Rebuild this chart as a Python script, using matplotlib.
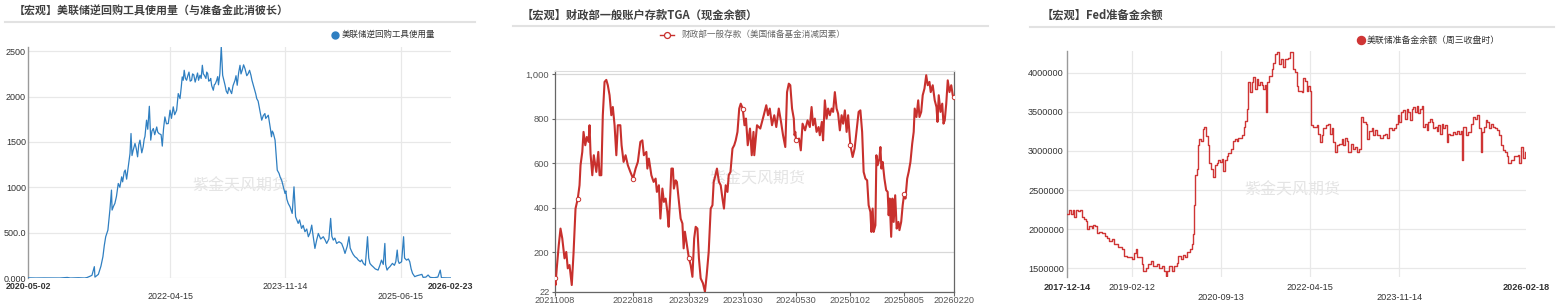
import numpy as np
import pandas as pd
import matplotlib
matplotlib.use('Agg')
import matplotlib.pyplot as plt
import matplotlib.dates as mdates
from matplotlib.lines import Line2D

W, H = 1562, 308
plt.rcParams['font.family'] = ['Liberation Sans', 'Noto Sans CJK SC', 'DejaVu Sans']
CJK = ['Noto Sans CJK SC', 'DejaVu Sans']

# ---------------- data ----------------
title1 = "【宏观】美联储逆回购工具使用量（与准备金此消彼长）"
legend1 = "美联储逆回购工具使用量"
title2 = "【宏观】财政部一般账户存款TGA（现金余额）"
legend2 = "财政部一般存款（美国储备基金消减因素）"
title3 = "【宏观】Fed准备金余额"
legend3 = "美联储准备金余额（周三收盘时）"
watermark = "紫金天风期货"

rrp_dates = [
    "2020-05-02", "2020-06-10", "2020-07-20", "2020-09-01", "2020-10-09", "2020-11-15", "2020-12-01",
    "2021-01-10", "2021-02-10", "2021-02-22", "2021-03-10", "2021-03-19", "2021-03-31", "2021-04-03",
    "2021-04-20", "2021-05-03", "2021-05-13", "2021-05-20", "2021-05-27", "2021-06-07", "2021-06-17",
    "2021-06-25", "2021-06-28", "2021-07-05", "2021-07-12", "2021-07-20", "2021-07-29", "2021-08-06",
    "2021-08-15", "2021-08-28", "2021-09-09", "2021-09-17", "2021-09-26", "2021-10-01", "2021-10-06",
    "2021-10-12", "2021-10-21", "2021-11-03", "2021-11-15", "2021-11-24", "2021-12-01", "2021-12-10",
    "2021-12-18", "2021-12-24", "2022-01-01", "2022-01-08", "2022-01-21", "2022-01-28", "2022-02-07",
    "2022-02-18", "2022-03-01", "2022-03-07", "2022-03-20", "2022-03-28", "2022-04-06", "2022-04-15",
    "2022-04-22", "2022-05-01", "2022-05-18", "2022-05-26", "2022-06-04", "2022-06-15", "2022-06-25",
    "2022-07-01", "2022-07-07", "2022-07-19", "2022-08-01", "2022-08-12", "2022-08-26", "2022-09-05",
    "2022-09-12", "2022-09-24", "2022-10-04", "2022-10-12", "2022-10-21", "2022-11-01", "2022-11-10",
    "2022-11-18", "2022-11-28", "2022-12-05", "2022-12-14", "2022-12-21", "2022-12-28", "2023-01-04",
    "2023-01-16", "2023-01-29", "2023-02-10", "2023-02-18", "2023-03-07", "2023-03-18", "2023-04-01",
    "2023-04-12", "2023-04-26", "2023-05-05", "2023-05-12", "2023-05-26", "2023-06-07", "2023-06-15",
    "2023-06-24", "2023-07-05", "2023-07-12", "2023-07-19", "2023-07-27", "2023-08-04", "2023-08-12",
    "2023-08-21", "2023-08-28", "2023-09-06", "2023-09-15", "2023-09-24", "2023-10-05", "2023-10-14",
    "2023-10-27", "2023-11-05", "2023-11-13", "2023-11-22", "2023-11-29", "2023-12-08", "2023-12-19",
    "2023-12-28", "2024-01-05", "2024-01-18", "2024-01-25", "2024-02-04", "2024-02-12", "2024-02-21",
    "2024-03-01", "2024-03-09", "2024-03-18", "2024-03-26", "2024-04-01", "2024-04-11", "2024-04-20",
    "2024-04-28", "2024-05-10", "2024-05-23", "2024-06-01", "2024-06-09", "2024-06-20", "2024-06-29",
    "2024-07-05", "2024-07-12", "2024-07-20", "2024-07-29", "2024-08-10", "2024-08-23", "2024-09-01",
    "2024-09-09", "2024-09-20", "2024-09-29", "2024-10-05", "2024-10-13", "2024-10-20", "2024-10-29",
    "2024-11-07", "2024-11-15", "2024-11-25", "2024-12-02", "2024-12-10", "2024-12-20", "2024-12-31",
    "2025-01-06", "2025-01-12", "2025-01-20", "2025-01-28", "2025-02-08", "2025-02-22", "2025-03-03",
    "2025-03-11", "2025-03-20", "2025-03-28", "2025-04-01", "2025-04-08", "2025-04-15", "2025-04-22",
    "2025-05-05", "2025-05-15", "2025-05-22", "2025-05-29", "2025-06-03", "2025-06-08", "2025-06-20",
    "2025-06-30", "2025-07-05", "2025-07-15", "2025-07-24", "2025-07-31", "2025-08-07", "2025-08-14",
    "2025-08-25", "2025-09-05", "2025-09-19", "2025-09-30", "2025-10-06", "2025-10-20", "2025-10-31",
    "2025-11-10", "2025-11-17", "2025-12-01", "2025-12-19", "2025-12-31", "2026-01-06", "2026-01-20",
    "2026-02-05", "2026-02-23",
]
rrp_values = [
    2, 0, 1, 0, 0, 6, 0,
    3, 0, 5, 20, 30, 125, 10,
    40, 130, 235, 360, 455, 528, 749,
    969, 749, 790, 822, 900, 1042, 1000,
    1115, 1170, 1090, 1225, 1373, 1593, 1350,
    1410, 1483, 1336, 1520, 1380, 1446, 1560,
    1740, 1640, 1893, 1520, 1648, 1580, 1665,
    1593, 1580, 1454, 1776, 1700, 1703, 1850,
    1760, 1887, 1850, 2033, 1978, 2217, 2290,
    2200, 2180, 2270, 2180, 2240, 2217, 2180,
    2235, 2345, 2235, 2200, 2253, 2180, 2120,
    2070, 2140, 2180, 2130, 2253, 2550, 2235,
    2125, 2033, 2070, 2033, 2180, 2125, 2345,
    2290, 2308, 2230, 2253, 2235, 2125, 2060,
    1978, 1905, 1820, 1740, 1790, 1813, 1770,
    1795, 1700, 1557, 1600, 1520, 1189, 1153,
    1079, 1000, 932, 870, 822, 785, 712,
    1005, 675, 602, 640, 547, 580, 510,
    540, 455, 500, 583, 480, 326, 420,
    491, 430, 455, 420, 381, 430, 657,
    460, 418, 440, 381, 400, 381, 330,
    271, 350, 455, 330, 290, 260, 234,
    220, 197, 180, 200, 161, 140, 455,
    220, 161, 140, 124, 100, 87, 140,
    197, 150, 381, 150, 87, 110, 124,
    161, 140, 180, 308, 190, 161, 179,
    455, 220, 197, 210, 179, 100, 51,
    15, 25, 33, 40, 7, 10, 33,
    8, 5, 3, 10, 87, 3, 2,
    1, 1,
]
# extra in-between readings of the day-to-day wiggles
rrp_extra_dates = [
    "2021-08-20", "2021-09-02", "2021-10-27", "2021-11-09", "2021-12-06", "2022-01-14",
    "2022-02-12", "2022-03-13", "2022-05-08", "2022-06-10", "2022-06-20", "2022-07-13",
    "2022-07-25", "2022-08-06", "2022-08-19", "2022-08-31", "2022-09-18", "2022-09-29",
    "2022-10-16", "2022-10-26", "2022-11-05", "2022-11-23", "2022-12-10", "2023-01-10",
    "2023-01-22", "2023-02-04", "2023-02-25", "2023-03-12", "2023-03-25", "2023-04-06",
    "2023-04-19", "2023-05-19", "2023-05-31", "2023-06-19", "2023-07-01", "2023-08-08",
    "2023-09-01", "2023-09-10", "2023-10-20", "2023-11-17",
]
rrp_extra_values = [
    1060, 1190, 1430, 1470, 1530, 1620,
    1610, 1640, 1800, 2100, 2180, 2230,
    2170, 2250, 2160, 2260, 2200, 2250,
    2270, 2170, 2200, 2130, 2220, 2180,
    2060, 2100, 2120, 2230, 2260, 2250,
    2350, 2290, 2180, 2030, 1950, 1760,
    1640, 1620, 1110, 960,
]
rrp_xticks = ["2022-04-15", "2023-11-14", "2025-06-15"]
rrp_xlabels = [("2020-05-02", 0, True), ("2022-04-15", 1, False), ("2023-11-14", 0, False),
               ("2025-06-15", 1, False), ("2026-02-23", 0, True)]
rrp_yticks = [0, 500, 1000, 1500, 2000, 2500]
rrp_ylabels = ["0.000", "500.0", "1000", "1500", "2000", "2500"]

tga_dates = [
    "2021-10-08", "2021-10-12", "2021-10-17", "2021-10-25", "2021-11-01", "2021-11-08", "2021-11-17",
    "2021-11-24", "2021-11-30", "2021-12-07", "2021-12-16", "2021-12-23", "2021-12-31", "2022-01-09",
    "2022-01-16", "2022-01-20", "2022-01-27", "2022-02-01", "2022-02-08", "2022-02-14", "2022-02-21",
    "2022-02-25", "2022-03-01", "2022-03-08", "2022-03-14", "2022-03-24", "2022-04-01", "2022-04-06",
    "2022-04-13", "2022-04-19", "2022-04-26", "2022-05-03", "2022-05-09", "2022-05-16", "2022-05-23",
    "2022-05-29", "2022-06-05", "2022-06-12", "2022-06-18", "2022-06-28", "2022-07-03", "2022-07-11",
    "2022-07-19", "2022-07-28", "2022-08-07", "2022-08-18", "2022-08-28", "2022-09-06", "2022-09-16",
    "2022-09-24", "2022-09-30", "2022-10-10", "2022-10-14", "2022-10-20", "2022-10-30", "2022-11-08",
    "2022-11-16", "2022-11-21", "2022-11-29", "2022-12-05", "2022-12-13", "2022-12-19", "2022-12-26",
    "2023-01-02", "2023-01-07", "2023-01-14", "2023-01-18", "2023-01-24", "2023-01-28", "2023-02-04",
    "2023-02-09", "2023-02-17", "2023-02-24", "2023-03-03", "2023-03-08", "2023-03-13", "2023-03-29",
    "2023-04-05", "2023-04-12", "2023-04-19", "2023-04-25", "2023-05-02", "2023-05-08", "2023-05-15",
    "2023-05-24", "2023-06-01", "2023-06-08", "2023-06-16", "2023-06-24", "2023-07-01", "2023-07-06",
    "2023-07-13", "2023-07-19", "2023-07-27", "2023-08-03", "2023-08-10", "2023-08-16", "2023-08-23",
    "2023-08-30", "2023-09-04", "2023-09-11", "2023-09-19", "2023-09-26", "2023-10-02", "2023-10-09",
    "2023-10-16", "2023-10-22", "2023-10-30", "2023-11-06", "2023-11-12", "2023-11-19", "2023-11-28",
    "2023-12-05", "2023-12-12", "2023-12-15", "2023-12-26", "2024-01-08", "2024-01-22", "2024-02-01",
    "2024-02-08", "2024-02-15", "2024-02-24", "2024-03-04", "2024-03-12", "2024-03-22", "2024-03-31",
    "2024-04-08", "2024-04-17", "2024-04-24", "2024-05-01", "2024-05-07", "2024-05-14", "2024-05-21",
    "2024-05-24", "2024-05-27", "2024-05-30", "2024-06-11", "2024-06-18", "2024-06-25", "2024-07-05",
    "2024-07-15", "2024-07-24", "2024-07-31", "2024-08-06", "2024-08-13", "2024-08-20", "2024-08-28",
    "2024-09-02", "2024-09-10", "2024-09-15", "2024-09-22", "2024-09-29", "2024-10-05", "2024-10-12",
    "2024-10-19", "2024-10-25", "2024-11-01", "2024-11-08", "2024-11-14", "2024-11-21", "2024-11-28",
    "2024-12-04", "2024-12-11", "2024-12-18", "2024-12-24", "2025-01-02", "2025-01-06", "2025-01-11",
    "2025-01-19", "2025-01-29", "2025-02-04", "2025-02-11", "2025-02-18", "2025-02-24", "2025-03-03",
    "2025-03-10", "2025-03-16", "2025-03-23", "2025-03-27", "2025-04-01", "2025-04-05", "2025-04-12",
    "2025-04-16", "2025-04-21", "2025-04-28", "2025-05-02", "2025-05-06", "2025-05-11", "2025-05-18",
    "2025-05-25", "2025-05-31", "2025-06-04", "2025-06-08", "2025-06-14", "2025-06-19", "2025-06-24",
    "2025-06-30", "2025-07-06", "2025-07-13", "2025-07-17", "2025-07-24", "2025-07-30", "2025-08-05",
    "2025-08-10", "2025-08-17", "2025-08-23", "2025-08-30", "2025-09-06", "2025-09-12", "2025-09-16",
    "2025-09-23", "2025-09-30", "2025-10-05", "2025-10-12", "2025-10-18", "2025-10-25", "2025-11-01",
    "2025-11-07", "2025-11-14", "2025-11-19", "2025-11-27", "2025-12-05", "2025-12-12", "2025-12-16",
    "2025-12-21", "2025-12-28", "2026-01-04", "2026-01-09", "2026-01-14", "2026-01-20", "2026-01-26",
    "2026-02-02", "2026-02-09", "2026-02-15", "2026-02-20",
]
tga_values = [
    82, 52, 127, 231, 306, 262, 172,
    201, 127, 142, 52, 194, 396, 441,
    501, 591, 651, 741, 681, 718, 696,
    771, 643, 546, 636, 561, 651, 546,
    546, 816, 966, 975, 951, 906, 816,
    853, 771, 636, 771, 771, 681, 606,
    636, 591, 561, 531, 576, 606, 696,
    703, 636, 651, 576, 621, 546, 516,
    531, 471, 501, 351, 486, 426, 441,
    381, 314, 471, 576, 576, 486, 523,
    516, 426, 351, 329, 217, 292, 172,
    142, 89, 262, 314, 306, 172, 82,
    60, 22, 97, 201, 396, 411, 516,
    546, 576, 516, 501, 441, 396, 501,
    471, 546, 561, 666, 681, 703, 741,
    846, 868, 846, 771, 801, 681, 756,
    636, 741, 636, 771, 756, 816, 861,
    816, 846, 771, 816, 763, 846, 786,
    726, 673, 920, 958, 951, 846, 801,
    726, 741, 703, 711, 658, 778, 748,
    793, 763, 853, 771, 801, 741, 763,
    726, 786, 703, 883, 801, 846, 816,
    846, 831, 920, 846, 823, 748, 816,
    778, 838, 741, 816, 681, 658, 628,
    666, 771, 831, 838, 741, 561, 531,
    523, 411, 381, 291, 396, 291, 321,
    636, 591, 621, 673, 576, 606, 531,
    479, 471, 366, 441, 269, 441, 336,
    456, 306, 336, 299, 336, 411, 463,
    441, 531, 561, 606, 688, 741, 846,
    808, 883, 808, 831, 906, 936, 996,
    951, 966, 920, 951, 883, 853, 786,
    906, 831, 868, 778, 793, 868, 973,
    920, 951, 906, 898,
]
tga_xticks = ["2021-10-08", "2022-08-18", "2023-03-29", "2023-10-30", "2024-05-30",
              "2025-01-02", "2025-08-05", "2026-02-20"]
tga_xlabels = ["20211008", "20220818", "20230329", "20231030", "20240530",
               "20250102", "20250805", "20260220"]
tga_marker_dates = tga_xticks + ["2022-01-09"]
tga_yticks = [22, 200, 400, 600, 800, 1000]
tga_ylabels = ["22", "200", "400", "600", "800", "1,000"]

res_dates = [
    "2017-12-14", "2017-12-27", "2018-01-09", "2018-01-22", "2018-01-30", "2018-02-12", "2018-02-27",
    "2018-03-10", "2018-03-21", "2018-04-05", "2018-04-18", "2018-04-27", "2018-05-10", "2018-05-25",
    "2018-06-05", "2018-06-16", "2018-06-27", "2018-07-14", "2018-07-30", "2018-08-20", "2018-09-04",
    "2018-09-17", "2018-10-02", "2018-10-17", "2018-11-04", "2018-11-14", "2018-12-06", "2018-12-21",
    "2019-01-08", "2019-01-18", "2019-02-09", "2019-02-24", "2019-03-09", "2019-03-18", "2019-04-04",
    "2019-04-15", "2019-04-26", "2019-05-13", "2019-05-28", "2019-06-13", "2019-06-26", "2019-07-11",
    "2019-07-26", "2019-08-08", "2019-08-23", "2019-09-07", "2019-09-20", "2019-09-29", "2019-10-12",
    "2019-10-27", "2019-11-11", "2019-11-29", "2019-12-09", "2019-12-25", "2020-01-11", "2020-01-22",
    "2020-02-06", "2020-02-23", "2020-03-05", "2020-03-16", "2020-03-22", "2020-03-29", "2020-04-07",
    "2020-04-13", "2020-04-24", "2020-05-03", "2020-05-16", "2020-05-26", "2020-06-06", "2020-06-17",
    "2020-06-28", "2020-07-09", "2020-07-20", "2020-08-04", "2020-08-15", "2020-08-25", "2020-09-05",
    "2020-09-16", "2020-09-27", "2020-10-08", "2020-10-19", "2020-10-29", "2020-11-14", "2020-11-27",
    "2020-12-12", "2020-12-23", "2021-01-02", "2021-01-18", "2021-01-28", "2021-02-08", "2021-02-15",
    "2021-02-26", "2021-03-08", "2021-03-19", "2021-03-30", "2021-04-10", "2021-04-21", "2021-05-02",
    "2021-05-12", "2021-05-23", "2021-06-03", "2021-06-14", "2021-06-25", "2021-07-01", "2021-07-10",
    "2021-07-23", "2021-08-07", "2021-08-18", "2021-08-29", "2021-09-13", "2021-09-26", "2021-10-07",
    "2021-10-18", "2021-11-02", "2021-11-23", "2021-12-04", "2021-12-15", "2021-12-26", "2022-01-06",
    "2022-01-17", "2022-01-27", "2022-02-07", "2022-02-18", "2022-03-01", "2022-03-12", "2022-03-23",
    "2022-04-02", "2022-04-13", "2022-04-20", "2022-05-05", "2022-05-27", "2022-06-06", "2022-06-17",
    "2022-06-28", "2022-07-09", "2022-07-24", "2022-08-10", "2022-08-21", "2022-09-01", "2022-09-08",
    "2022-09-23", "2022-10-04", "2022-10-21", "2022-11-05", "2022-11-16", "2022-11-27", "2022-12-08",
    "2022-12-18", "2023-01-03", "2023-01-16", "2023-01-31", "2023-02-15", "2023-02-28", "2023-03-11",
    "2023-03-26", "2023-04-10", "2023-04-21", "2023-05-04", "2023-05-19", "2023-05-30", "2023-06-10",
    "2023-06-25", "2023-07-12", "2023-07-30", "2023-08-14", "2023-08-29", "2023-09-11", "2023-09-26",
    "2023-10-11", "2023-10-24", "2023-11-08", "2023-11-15", "2023-11-26", "2023-12-11", "2023-12-22",
    "2024-01-02", "2024-01-12", "2024-01-23", "2024-02-03", "2024-02-14", "2024-02-25", "2024-03-07",
    "2024-03-17", "2024-03-28", "2024-04-08", "2024-04-19", "2024-04-30", "2024-05-11", "2024-05-21",
    "2024-06-01", "2024-06-12", "2024-06-23", "2024-07-04", "2024-07-15", "2024-07-25", "2024-08-05",
    "2024-08-16", "2024-08-27", "2024-09-07", "2024-09-18", "2024-09-28", "2024-10-09", "2024-10-27",
    "2024-11-11", "2024-11-26", "2024-12-09", "2024-12-20", "2024-12-28", "2025-01-04", "2025-01-21",
    "2025-02-05", "2025-02-21", "2025-03-06", "2025-03-21", "2025-04-05", "2025-04-16", "2025-04-27",
    "2025-05-03", "2025-05-18", "2025-05-31", "2025-06-09", "2025-06-20", "2025-07-01", "2025-07-14",
    "2025-07-29", "2025-08-13", "2025-08-26", "2025-09-06", "2025-09-17", "2025-10-02", "2025-10-13",
    "2025-10-23", "2025-11-10", "2025-12-01", "2025-12-23", "2026-01-04", "2026-01-15", "2026-01-27",
    "2026-02-07", "2026-02-18",
]
res_values = [
    2200000, 2250000, 2190000, 2250000, 2150000, 2250000, 2230000,
    2250000, 2150000, 2130000, 2110000, 2000000, 2040000, 2020000,
    2060000, 2040000, 1950000, 1970000, 1950000, 1910000, 1890000,
    1850000, 1870000, 1810000, 1810000, 1770000, 1750000, 1660000,
    1640000, 1640000, 1620000, 1690000, 1750000, 1640000, 1640000,
    1560000, 1470000, 1510000, 1560000, 1590000, 1530000, 1530000,
    1550000, 1510000, 1530000, 1470000, 1400000, 1470000, 1530000,
    1470000, 1530000, 1570000, 1660000, 1620000, 1670000, 1640000,
    1710000, 1750000, 1810000, 1940000, 2310000, 2690000, 2770000,
    3070000, 3150000, 3130000, 3285000, 3300000, 3190000, 3070000,
    2840000, 2770000, 2670000, 2820000, 2840000, 2880000, 2860000,
    2900000, 2750000, 2880000, 2940000, 2980000, 3030000, 3130000,
    3150000, 3130000, 3170000, 3170000, 3210000, 3300000, 3380000,
    3540000, 3880000, 3750000, 3880000, 3940000, 3790000, 3920000,
    3840000, 3880000, 3840000, 3790000, 3840000, 3500000, 3880000,
    3960000, 4050000, 4130000, 4240000, 4260000, 4110000, 4170000,
    4070000, 4170000, 4190000, 4260000, 4260000, 4050000, 4010000,
    3830000, 3770000, 3770000, 3750000, 3930000, 3890000, 3770000,
    3830000, 3770000, 3330000, 3310000, 3330000, 3220000, 3115000,
    3200000, 3290000, 3330000, 3350000, 3220000, 3290000, 3120000,
    2990000, 3070000, 3090000, 3150000, 3070000, 3170000, 3130000,
    2990000, 3090000, 3030000, 3050000, 2990000, 3030000, 3430000,
    3370000, 3350000, 3150000, 3250000, 3290000, 3200000, 3270000,
    3200000, 3170000, 3200000, 3220000, 3170000, 3290000, 3270000,
    3290000, 3350000, 3460000, 3370000, 3500000, 3520000, 3410000,
    3540000, 3500000, 3390000, 3540000, 3560000, 3500000, 3580000,
    3480000, 3540000, 3580000, 3310000, 3350000, 3270000, 3370000,
    3410000, 3370000, 3290000, 3310000, 3250000, 3330000, 3220000,
    3350000, 3290000, 3330000, 3120000, 3220000, 3200000, 3240000,
    3220000, 3260000, 3220000, 3260000, 2880000, 3310000, 3200000,
    3240000, 3350000, 3430000, 3410000, 3460000, 3290000, 2990000,
    3240000, 3310000, 3390000, 3370000, 3290000, 3350000, 3310000,
    3290000, 3270000, 3200000, 3070000, 3010000, 2990000, 2940000,
    2840000, 2880000, 2930000, 2950000, 2850000, 3050000, 2910000,
    2990000, 2970000,
]
res_xticks = ["2019-02-12", "2020-09-13", "2022-04-15", "2023-11-14"]
res_xlabels = [("2017-12-14", 0, True), ("2019-02-12", 0, False), ("2020-09-13", 1, False),
               ("2022-04-15", 0, False), ("2023-11-14", 1, False), ("2026-02-18", 0, True)]
res_yticks = [1500000, 2000000, 2500000, 3000000, 3500000, 4000000]
res_ylabels = ["1500000", "2000000", "2500000", "3000000", "3500000", "4000000"]

# ---------------- styles ----------------
BLUE = '#2f7fc1'
RED2 = '#c8302d'
RED3 = '#cf3535'
TITLE_C = '#404040'
GRID = '#e8e8e8'

fig = plt.figure(figsize=(W / 100, H / 100), dpi=100)
fig.patch.set_facecolor('white')


def fx(x):
    return x / W


def fy(y):
    return 1 - y / H


def px_axes(l, t, r, b):
    return fig.add_axes([l / W, 1 - b / H, (r - l) / W, (b - t) / H])


def sep(x0, x1, y):
    fig.add_artist(Line2D([fx(x0), fx(x1)], [fy(y), fy(y)], transform=fig.transFigure,
                          color='#e2e2e2', lw=1.5))


def dn(s):
    return mdates.date2num(pd.Timestamp(s))


def xlabel(ax, date, text, off_px, bold, size=6.4, color='#333333'):
    ax.annotate(text, xy=(dn(date), 0), xycoords=('data', 'axes fraction'),
                xytext=(0, -off_px * 0.72), textcoords='offset points',
                ha='center', va='center', fontsize=size, color=color,
                fontweight='bold' if bold else 'normal', annotation_clip=False)


def wm(ax, x, y):
    ax.text(fx(x), fy(y), watermark, transform=fig.transFigure, fontsize=11.5,
            color='#e4e4e4', family=CJK, ha='center', va='center', zorder=0.5)


# ---------------- panel 1 ----------------
fig.text(fx(14), fy(11), title1, fontsize=7.9, fontweight='bold', color=TITLE_C,
         family=CJK, ha='left', va='center')
sep(5, 475, 22)
fig.add_artist(Line2D([fx(335)], [fy(34.7)], transform=fig.transFigure, marker='o',
                      ms=5, color=BLUE, ls='none'))
fig.text(fx(341.5), fy(34.7), legend1, fontsize=6.1, color='#333333', family=CJK,
         ha='left', va='center')

ax1 = px_axes(28, 46.7, 451, 278)
rrp = pd.DataFrame({'date': pd.to_datetime(rrp_dates + rrp_extra_dates),
                    'value': rrp_values + rrp_extra_values}).sort_values('date')
ax1.plot(rrp['date'], rrp['value'], color=BLUE, lw=0.9, zorder=3)
ax1.set_xlim(pd.Timestamp("2020-05-02"), pd.Timestamp("2026-02-23"))
ax1.set_ylim(0, 2550)
ax1.set_yticks(rrp_yticks)
ax1.set_yticklabels(rrp_ylabels)
ax1.set_xticks(pd.to_datetime(rrp_xticks))
ax1.set_xticklabels([])
ax1.tick_params(axis='both', length=0)
ax1.tick_params(axis='y', pad=1.5, labelsize=6.5, labelcolor='#333333')
ax1.grid(True, color=GRID, lw=0.9)
ax1.set_axisbelow(True)
for s in ['top', 'right', 'bottom']:
    ax1.spines[s].set_visible(False)
ax1.spines['left'].set_color('#9a9a9a')
ax1.spines['left'].set_linewidth(1.0)
for date, row, bold in rrp_xlabels:
    xlabel(ax1, date, date, 8.7 if row == 0 else 18.7, bold)
wm(ax1, 240.5, 186.7)

# ---------------- panel 2 ----------------
fig.text(fx(522), fy(15.3), title2, fontsize=8.1, fontweight='bold', color=TITLE_C,
         family=CJK, ha='left', va='center')
sep(513, 988, 26)
fig.add_artist(Line2D([fx(660), fx(674)], [fy(34.7), fy(34.7)], transform=fig.transFigure,
                      color=RED2, lw=1.0))
fig.add_artist(Line2D([fx(667)], [fy(34.7)], transform=fig.transFigure, marker='o', ms=4.3,
                      mfc='white', mec=RED2, mew=0.9, ls='none'))
fig.text(fx(681.5), fy(34.7), legend2, fontsize=6.2, color='#666666', family=CJK,
         ha='left', va='center')

ax2 = px_axes(554.5, 71, 954, 291.7)
d2 = pd.to_datetime(tga_dates)
mk = [i for i, d in enumerate(tga_dates) if d in tga_marker_dates]
ax2.plot(d2, tga_values, color=RED2, lw=1.5, zorder=3, marker='o', markevery=mk,
         ms=3.2, mfc='white', mec=RED2, mew=0.7)
ax2.set_xlim(pd.Timestamp("2021-10-08"), pd.Timestamp("2026-02-20"))
ax2.set_ylim(22, 1015)
ax2.set_yticks(tga_yticks)
ax2.set_yticklabels(tga_ylabels)
ax2.set_xticks(pd.to_datetime(tga_xticks))
ax2.set_xticklabels([])
ax2.tick_params(axis='x', length=3.2, width=0.8, color='#666666', direction='out')
ax2.tick_params(axis='y', length=2.5, width=0.8, color='#666666', pad=1.2,
                labelsize=6.7, labelcolor='#555555')
ax2.grid(True, axis='y', color='#d8d8d8', lw=0.9)
ax2.set_axisbelow(True)
for s in ['left', 'bottom', 'right']:
    ax2.spines[s].set_color('#666666')
    ax2.spines[s].set_linewidth(0.9)
ax2.spines['top'].set_color('#dddddd')
for date, lab in zip(tga_xticks, tga_xlabels):
    xlabel(ax2, date, lab, 9.0, False, size=6.6, color='#555555')
wm(ax2, 757.5, 179.3)

# ---------------- panel 3 ----------------
fig.text(fx(1042), fy(15.5), title3, fontsize=8.1, fontweight='bold', color=TITLE_C,
         family=CJK, ha='left', va='center')
sep(1030, 1554, 27)
fig.add_artist(Line2D([fx(1360.5)], [fy(40)], transform=fig.transFigure, marker='o',
                      ms=5.8, color=RED3, ls='none'))
fig.text(fx(1367), fy(40), legend3, fontsize=6.4, color='#333333', family=CJK,
         ha='left', va='center')

ax3 = px_axes(1066.7, 51, 1526.4, 276.7)
d3 = pd.to_datetime(res_dates)
ax3.plot(d3, res_values, color=RED3, lw=1.0, zorder=3, drawstyle='steps-post')
ax3.set_xlim(pd.Timestamp("2017-12-14"), pd.Timestamp("2026-02-18"))
ax3.set_ylim(1393000, 4277000)
ax3.set_yticks(res_yticks)
ax3.set_yticklabels(res_ylabels)
ax3.set_xticks(pd.to_datetime(res_xticks))
ax3.set_xticklabels([])
ax3.tick_params(axis='both', length=0)
ax3.tick_params(axis='y', pad=2.0, labelsize=6.6, labelcolor='#333333')
ax3.grid(True, color=GRID, lw=0.9)
ax3.set_axisbelow(True)
for s in ['top', 'right', 'bottom']:
    ax3.spines[s].set_visible(False)
ax3.spines['left'].set_color('#9a9a9a')
ax3.spines['left'].set_linewidth(1.0)
for date, row, bold in res_xlabels:
    xlabel(ax3, date, date, 10.3 if row == 0 else 20.3, bold, size=6.6)
wm(ax3, 1292, 190.5)

fig.savefig('out.png', dpi=100, facecolor='white')
